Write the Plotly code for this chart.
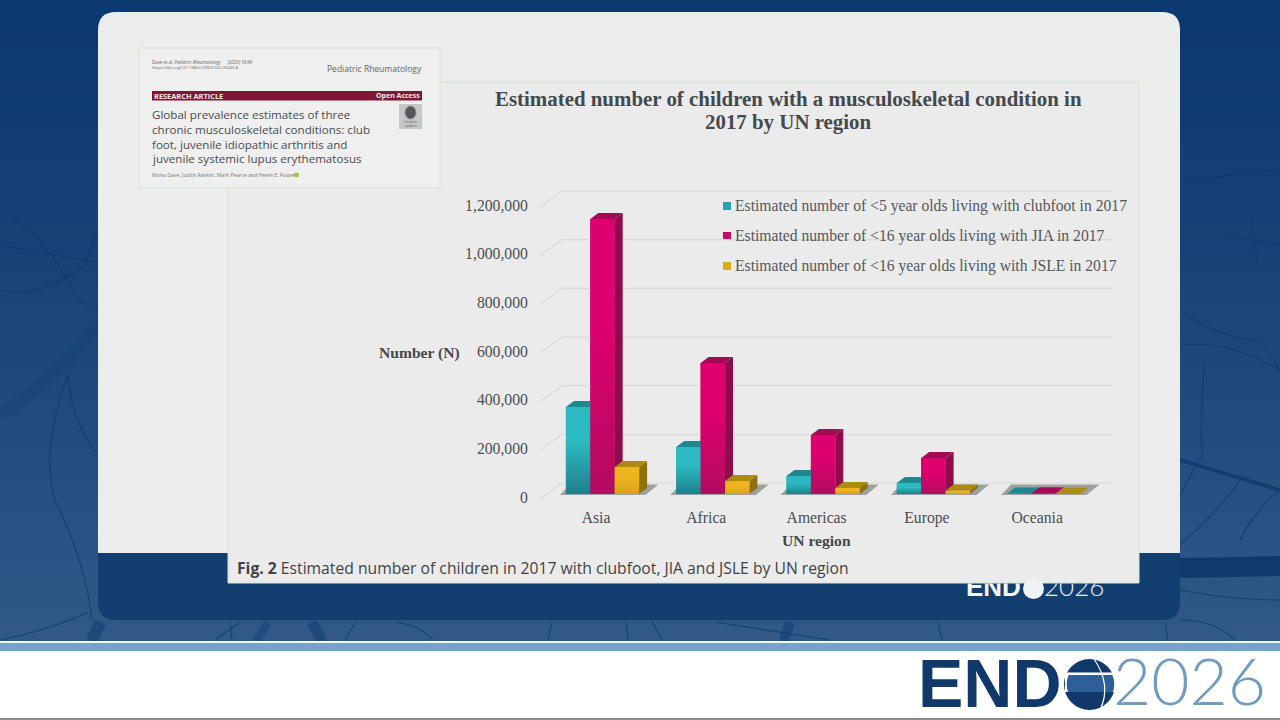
import plotly.graph_objects as go

# values
regions = ['Asia', 'Africa', 'Americas', 'Europe', 'Oceania']
clubfoot = [358000, 193000, 74000, 45000, 2000]
jia = [1130000, 538000, 243000, 148000, 3000]
jsle = [111000, 53000, 25000, 14000, 1000]
y_ticks = [0, 200000, 400000, 600000, 800000, 1000000, 1200000]
y_labels = ['0', '200,000', '400,000', '600,000', '800,000', '1,000,000', '1,200,000']
legend_names = ['Estimated number of <5 year olds living with clubfoot in 2017',
                'Estimated number of <16 year olds living with JIA in 2017',
                'Estimated number of <16 year olds living with JSLE in 2017']
paper_title = ['Global prevalence estimates of three',
               'chronic musculoskeletal conditions: club',
               'foot, juvenile idiopathic arthritis and',
               'juvenile systemic lupus erythematosus']
chart_title = ['Estimated number of children with a musculoskeletal condition in',
               '2017 by UN region']

W, H = 1280, 720
SERIF = 'Liberation Serif'
SANS = 'Open Sans'
INK = '#4a4d50'

# chart box in page pixels, and scale of the value axis
PLOT_L, PLOT_R, PLOT_T, PLOT_B = 540, 1112, 190, 499
BASE_PX = 494
PX_PER_VALUE = 243.3 / 1000000
PX_PER_CAT = 110.3
CAT0_PX = 602.5
dx = 8 / PX_PER_CAT          # depth of the bar sides
dy = 6 / PX_PER_VALUE
wall_dy = 11 / PX_PER_VALUE  # back wall sits above the bar base
BAR_W = 0.2213


def px(x):
    return x / W


def py(y):
    return 1 - y / H


shapes = []
annotations = []


def rect(x0, y0, x1, y1, color, line=None):
    shapes.append(dict(type='rect', xref='paper', yref='paper', layer='below',
                       x0=px(x0), x1=px(x1), y0=py(y0), y1=py(y1), fillcolor=color,
                       line=dict(color=line or color, width=1 if line else 0)))


def path(points, color, width=1.0, fill=None):
    d = ''
    for tok in points:
        if isinstance(tok, str):
            d += tok + ' '
        else:
            d += f'{px(tok[0])},{py(tok[1])} '
    shapes.append(dict(type='path', path=d, xref='paper', yref='paper', layer='below',
                       fillcolor=fill or 'rgba(0,0,0,0)',
                       line=dict(color=color, width=width)))


def label(x, y, text, size, color=INK, font=SANS, anchor='left', bold=False):
    if bold:
        text = f'<b>{text}</b>'
    # annotation boxes carry about 2px of padding
    x = {'left': x - 2, 'right': x + 2, 'center': x}[anchor]
    annotations.append(dict(x=px(x), y=py(y), xref='paper', yref='paper', text=text,
                            showarrow=False, xanchor=anchor, yanchor='middle',
                            font=dict(size=size, color=color, family=font)))


# ---- slide background: blue that gets lighter towards the bottom
top_rgb = (12, 57, 112)
bot_rgb = (49, 88, 135)
steps = 40
for i in range(steps):
    t = i / (steps - 1)
    c = tuple(int(a + (b - a) * t ** 1.2) for a, b in zip(top_rgb, bot_rgb))
    rect(0, i * 16, W, (i + 1) * 16 + 1, 'rgb(%d,%d,%d)' % c)

# veins
VEIN = 'rgba(14,58,110,0.75)'
vein_paths = [
    ['M', (0, 212), 'Q', (40, 225), (78, 300), 'L', (98, 310)],
    ['M', (0, 245), 'Q', (50, 255), (98, 262)],
    ['M', (0, 290), 'Q', (40, 300), (85, 265), 'L', (98, 230)],
    ['M', (68, 375), 'Q', (70, 420), (98, 455)],
    ['M', (68, 375), 'Q', (40, 450), (55, 500), 'Q', (85, 560), (92, 620)],
    ['M', (0, 640), 'Q', (50, 630), (88, 612)],
    ['M', (1180, 182), 'Q', (1230, 175), (1280, 170)],
    ['M', (1180, 310), 'Q', (1220, 340), (1260, 340), 'L', (1280, 370)],
    ['M', (1180, 345), 'Q', (1230, 340), (1280, 370)],
    ['M', (1205, 360), 'Q', (1200, 410), (1202, 455), 'L', (1180, 495)],
    ['M', (1180, 545), 'Q', (1220, 510), (1240, 480)],
    ['M', (1240, 540), 'Q', (1255, 510), (1280, 490)],
    ['M', (1180, 620), 'Q', (1215, 620), (1235, 640)],
    ['M', (1225, 235), 'L', (1280, 245)],
    ['M', (1250, 205), 'L', (1258, 270)],
    ['M', (1180, 590), 'Q', (1230, 600), (1280, 600)],
    ['M', (1165, 622), 'L', (1168, 641)],
    ['M', (548, 640), 'L', (552, 622)],
    ['M', (626, 622), 'L', (628, 640)],
    ['M', (652, 622), 'L', (662, 640)],
    ['M', (715, 622), 'Q', (780, 632), (830, 640)],
    ['M', (938, 622), 'L', (942, 640)],
    ['M', (215, 640), 'L', (240, 622)],
    ['M', (230, 622), 'L', (232, 640)],
    ['M', (345, 640), 'Q', (350, 630), (356, 622)],
    ['M', (395, 622), 'Q', (420, 625), (433, 640)],
]
for v in vein_paths:
    path(v, VEIN, 1.1)
path(['M', (0, 415), 'Q', (50, 385), (98, 325)], 'rgba(14,58,110,0.25)', 12)
path(['M', (1180, 460), 'Q', (1230, 475), (1280, 490)], 'rgba(12,52,105,0.7)', 3.5)
path(['M', (1180, 568), 'L', (1280, 566)], 'rgba(10,50,105,0.8)', 20)
path(['M', (312, 622), 'L', (322, 641)], 'rgba(14,58,110,0.5)', 11)
path(['M', (790, 622), 'L', (784, 641)], 'rgba(14,58,110,0.5)', 10)
path(['M', (268, 622), 'L', (256, 641)], 'rgba(14,58,110,0.4)', 8)
path(['M', (100, 622), 'L', (92, 641)], 'rgba(14,58,110,0.5)', 12)

# ---- rounded panel, dark footer under it
R = 18
PL, PR, PT, PM, PB = 98, 1180, 12, 553, 620
path(['M', (PL, PM), 'L', (PL, PT + R), 'Q', (PL, PT), (PL + R, PT), 'L', (PR - R, PT),
      'Q', (PR, PT), (PR, PT + R), 'L', (PR, PM), 'Z'], '#ebecec', 0, '#ebecec')
path(['M', (PL, PM), 'L', (PR, PM), 'L', (PR, PB - R), 'Q', (PR, PB), (PR - R, PB),
      'L', (PL + R, PB), 'Q', (PL, PB), (PL, PB - R), 'Z'], '#133f70', 0, '#133f70')

# figure sheet and paper header
rect(228, 82, 1139, 583, '#ebebeb', '#d7e3cf')
rect(139, 48, 440, 188, '#eeefee', '#d7e3cf')

# ---- paper header text
label(152, 62, 'Dave et al. <i>Pediatric Rheumatology</i>      (2020) 18:49', 4.4, '#666')
label(152, 67, 'https://doi.org/10.1186/s12969-020-00443-8', 4.2, '#666')
label(422, 68, 'Pediatric Rheumatology', 8.5, '#666', anchor='right')
rect(152, 91, 422, 100.5, '#7f1734')
label(154, 95.7, 'RESEARCH ARTICLE', 7.4, '#f2e6e9', bold=True)
label(420, 95.7, 'Open Access', 7, '#f2e6e9', anchor='right', bold=True)
for i, line in enumerate(paper_title):
    label(152, 115 + i * 14.6, line, 11.6, '#4a4c4e')
label(152, 175, 'Mona Dave, Judith Rankin, Mark Pearce and Helen E. Foster', 5.2, '#777')
shapes.append(dict(type='circle', xref='paper', yref='paper', layer='below',
                   x0=px(294), x1=px(299), y0=py(177.5), y1=py(172.5),
                   fillcolor='#a7c73c', line=dict(width=0)))
rect(399, 104, 422, 129, '#c6c8c8')
shapes.append(dict(type='circle', xref='paper', yref='paper', layer='below',
                   x0=px(405), x1=px(416), y0=py(119), y1=py(106),
                   fillcolor='#55585a', line=dict(color='#8a8c8d', width=1)))
label(410.5, 122.5, 'Check for', 3, '#555', anchor='center')
label(410.5, 126, 'updates', 3, '#555', anchor='center')

# ---- chart labels, all placed like the slide
label(788, 98.5, chart_title[0], 20.9, '#44494d', SERIF, anchor='center', bold=True)
label(788, 122.5, chart_title[1], 20.9, '#44494d', SERIF, anchor='center', bold=True)
label(460, 353, 'Number (N)', 15.6, '#45484b', SERIF, anchor='right', bold=True)
label(816, 540, 'UN region', 15.6, '#45484b', SERIF, anchor='center', bold=True)
label(237, 568, '<b>Fig. 2</b> Estimated number of children in 2017 with clubfoot, JIA and JSLE by UN region',
      15.7, '#3f4244')

# legend, hand placed to match the slide
series_colors = ['#27a4ab', '#c90a64', '#dca91f']
for i, name in enumerate(legend_names):
    y = 206 + i * 30
    rect(723, y - 4, 731, y + 4, series_colors[i])
    label(735, y, name.replace('<', '&lt;'), 15.65, '#55585b', SERIF)

# ---- bottom band with logo
rect(0, 641, W, 643.5, '#f4f8fb')
rect(0, 643.5, W, 651, '#76a3cd')
rect(0, 651, W, H, '#ffffff')
rect(0, 718, W, H, '#8c8c8c')

NAVY = '#11386b'
shapes.append(dict(type='circle', xref='paper', yref='paper', layer='below',
                   x0=px(1064), x1=px(1115), y0=py(710), y1=py(659),
                   fillcolor=NAVY, line=dict(width=0)))
rect(1066, 674, 1114, 692, '#2f5f98')
rect(1064, 672.5, 1116, 675, '#ffffff')
path(['M', (1094, 659), 'Q', (1112, 685), (1100, 710)], '#ffffff', 1.2)
# mask the corners of the light band back to a circle
path(['M', (1065, 674), 'L', (1069, 674), 'Q', (1065, 683), (1068, 692), 'L', (1065, 692), 'Z'],
     '#ffffff', 0, '#ffffff')
path(['M', (1115, 674), 'L', (1112, 674), 'Q', (1116, 683), (1113, 692), 'L', (1115, 692), 'Z'],
     '#ffffff', 0, '#ffffff')

# ---- chart
faces = {
    'clubfoot': dict(hi='#2cbac2', lo='#1f7f8c', top='#1f8790', side='#187078'),
    'jia': dict(hi='#dd006e', lo='#b30c60', top='#a50a55', side='#8e0c4c'),
    'jsle': dict(hi='#eeb51f', lo='#d8a21c', top='#ab8a10', side='#8c710c'),
}

fig = go.Figure()

for i, (name, vals, col) in enumerate(zip(legend_names, [clubfoot, jia, jsle], series_colors)):
    fig.add_trace(go.Bar(x=list(range(len(regions))), y=vals, name=name, marker=dict(color=col, line=dict(width=0)),
                         showlegend=False, xaxis='x2', yaxis='y2'))

# grid on the back wall with the slanted floor joints
gx, gy = [], []
x_left = (PLOT_L - CAT0_PX) / PX_PER_CAT
x_back = (562 - CAT0_PX) / PX_PER_CAT
x_right = (PLOT_R - CAT0_PX) / PX_PER_CAT
for t in y_ticks:
    gx += [x_left, x_back, x_right, None]
    gy += [t + wall_dy - 16 / PX_PER_VALUE, t + wall_dy, t + wall_dy, None]
fig.add_trace(go.Scatter(x=gx, y=gy, mode='lines', line=dict(color='#d9dada', width=1.2),
                         hoverinfo='skip', showlegend=False, xaxis='x2', yaxis='y2'))
# front edge of the floor
fig.add_trace(go.Scatter(x=[x_left, (1090 - CAT0_PX) / PX_PER_CAT],
                         y=[wall_dy - 16 / PX_PER_VALUE] * 2, mode='lines',
                         line=dict(color='#dcdddd', width=1.2), hoverinfo='skip', showlegend=False,
                         xaxis='x2', yaxis='y2'))


def poly(xs, ys, color=None, grad=None):
    kw = dict(fillcolor=color) if color else dict(fillgradient=grad)
    fig.add_trace(go.Scatter(x=xs, y=ys, mode='lines', fill='toself', line=dict(width=0),
                             hoverinfo='skip', showlegend=False, xaxis='x2', yaxis='y2', **kw))


for c in range(len(regions)):
    left = c - 1.5 * BAR_W
    right = c + 1.5 * BAR_W
    # floor shadow behind each group
    poly([left - 3 * dx / 4, left + dx / 2, right + 2.4 * dx, right + 0.8 * dx],
         [-wall_dy * 0.1, dy * 1.6, dy * 1.6, -wall_dy * 0.1], color='rgba(120,122,118,0.65)')
    for s, (key, vals) in enumerate([('clubfoot', clubfoot), ('jia', jia), ('jsle', jsle)]):
        f = faces[key]
        v = vals[c]
        x0 = left + s * BAR_W
        x1 = x0 + BAR_W
        poly([x1, x1 + dx, x1 + dx, x1], [0, dy, v + dy, v], color=f['side'])
        poly([x0, x0 + dx, x1 + dx, x1], [v, v + dy, v + dy, v], color=f['top'])
        poly([x0, x1, x1, x0], [0, 0, v, v],
             grad=dict(type='vertical', colorscale=[[0, f['lo']], [0.6, f['hi']], [1, f['hi']]]))

# small logo on the dark footer, cut off by the figure sheet through the axis clip
fig.add_trace(go.Scatter(x=[966], y=[589], mode='text', text=['<b>END</b>'], textposition='middle right',
                         textfont=dict(size=26, color='#f4f6f8', family='Liberation Sans'),
                         hoverinfo='skip', showlegend=False, xaxis='x3', yaxis='y3', cliponaxis=True))
fig.add_trace(go.Scatter(x=[1044], y=[589], mode='text', text=['2026'], textposition='middle right',
                         textfont=dict(size=26, color='#e8eef5', family='Lato', weight=300),
                         hoverinfo='skip', showlegend=False, xaxis='x3', yaxis='y3', cliponaxis=True))
shapes.append(dict(type='circle', xref='paper', yref='paper', layer='below',
                   x0=px(1023), x1=px(1044), y0=py(599), y1=py(578),
                   fillcolor='#f0f3f6', line=dict(width=0)))

# big logo text as traces
fig.add_trace(go.Scatter(x=[918], y=[689.5], mode='text', text=['<b>END</b>'], textposition='middle right',
                         textfont=dict(size=68, color=NAVY, family='Liberation Sans'),
                         hoverinfo='skip', showlegend=False, xaxis='x4', yaxis='y4', cliponaxis=False))
fig.add_trace(go.Scatter(x=[1113], y=[688.5], mode='text', text=['2026'], textposition='middle right',
                         textfont=dict(size=66, color='#6f9cc0', family='Lato', weight=300),
                         hoverinfo='skip', showlegend=False, xaxis='x4', yaxis='y4', cliponaxis=False))

fig.update_layout(
    width=W, height=H,
    margin=dict(l=0, r=0, t=0, b=0, autoexpand=False),
    paper_bgcolor='#0c3a70', plot_bgcolor='rgba(0,0,0,0)',
    barmode='group', bargap=0.336, bargroupgap=0,
    shapes=shapes, annotations=annotations, showlegend=False,
    xaxis2=dict(domain=[px(PLOT_L), px(PLOT_R)], anchor='y2',
                range=[(PLOT_L - CAT0_PX) / PX_PER_CAT, (PLOT_R - CAT0_PX) / PX_PER_CAT],
                tickvals=[c - 6.5 / PX_PER_CAT for c in range(len(regions))], ticktext=regions,
                showgrid=False, zeroline=False, showline=False, ticks='outside', ticklen=4,
                tickcolor='rgba(0,0,0,0)', tickfont=dict(family=SERIF, size=15.7, color=INK)),
    yaxis2=dict(domain=[py(PLOT_B), py(PLOT_T)], anchor='x2',
                range=[(BASE_PX - PLOT_B) / PX_PER_VALUE, (BASE_PX - PLOT_T) / PX_PER_VALUE],
                tickvals=[t - 3 / PX_PER_VALUE for t in y_ticks], ticktext=y_labels,
                showgrid=False, zeroline=False, showline=False, ticks='outside', ticklen=8,
                tickcolor='rgba(0,0,0,0)', tickfont=dict(family=SERIF, size=15.7, color=INK)),
    xaxis3=dict(domain=[px(960), px(1120)], anchor='y3', range=[960, 1120], visible=False),
    yaxis3=dict(domain=[py(600), py(583.5)], anchor='x3', range=[600, 583.5], visible=False),
    xaxis4=dict(domain=[px(910), px(1270)], anchor='y4', range=[910, 1270], visible=False),
    yaxis4=dict(domain=[py(715), py(655)], anchor='x4', range=[715, 655], visible=False),
)

# the page body has a default 8px margin that would push the slide off the window
fig.write_html("out.html", config=dict(displayModeBar=False),
               post_script="document.body.style.margin='0';document.body.style.overflow='hidden';")
